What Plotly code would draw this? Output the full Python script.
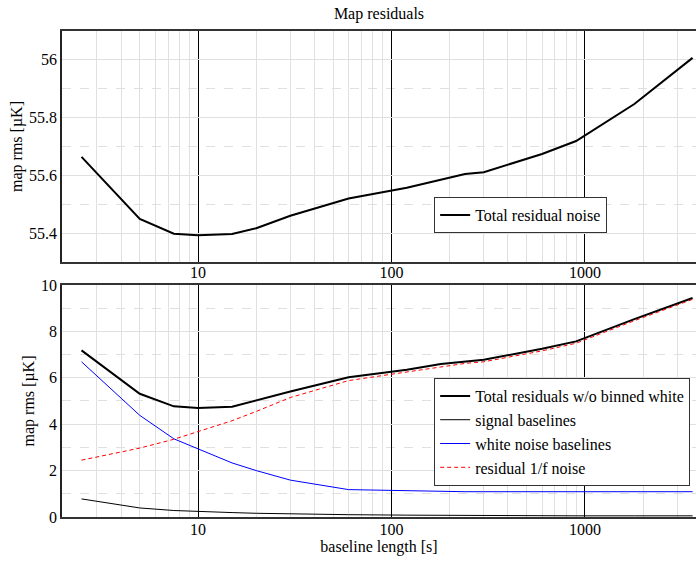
import plotly.graph_objects as go
from plotly.subplots import make_subplots

# ---- data ----
baseline_s = [2.5, 5, 7.5, 10, 15, 20, 30, 60, 120, 180, 240, 300, 600, 900, 1800, 3600]
total_residual_noise = [55.664, 55.449, 55.398, 55.393, 55.397, 55.417, 55.46, 55.52, 55.557,
                        55.584, 55.605, 55.611, 55.674, 55.719, 55.847, 56.007]
total_wo_binned_white = [7.18, 5.31, 4.77, 4.70, 4.75, 5.02, 5.41, 6.02, 6.35,
                         6.59, 6.71, 6.78, 7.25, 7.57, 8.53, 9.44]
signal_baselines = [0.78, 0.39, 0.28, 0.23, 0.19, 0.16, 0.13, 0.10, 0.08,
                    0.07, 0.07, 0.06, 0.05, 0.05, 0.05, 0.05]
white_noise_baselines = [6.69, 4.38, 3.37, 2.93, 2.33, 2.00, 1.59, 1.18, 1.12,
                         1.10, 1.09, 1.09, 1.09, 1.09, 1.09, 1.09]
residual_1f_noise = [2.45, 2.97, 3.35, 3.67, 4.15, 4.55, 5.15, 5.88, 6.25,
                     6.49, 6.62, 6.69, 7.16, 7.49, 8.46, 9.38]

x_major_ticks = [10, 100, 1000]
x_minor_ticks = [2, 3, 4, 5, 6, 7, 8, 9, 20, 30, 40, 50, 60, 70, 80, 90,
                 200, 300, 400, 500, 600, 700, 800, 900, 2000, 3000]
top_yticks = [55.4, 55.6, 55.8, 56]
top_yticklabels = ["55.4", "55.6", "55.8", "56"]
bottom_yticks = [0, 2, 4, 6, 8, 10]

FONT = "Liberation Serif, Times New Roman, serif"

fig = make_subplots(rows=2, cols=1, vertical_spacing=0.05)

fig.add_trace(go.Scatter(x=baseline_s, y=total_residual_noise, mode="lines",
                         name="Total residual noise", line=dict(color="black", width=2),
                         legend="legend", showlegend=True), row=1, col=1)

fig.add_trace(go.Scatter(x=baseline_s, y=total_wo_binned_white, mode="lines",
                         name="Total residuals w/o binned white", line=dict(color="black", width=2),
                         legend="legend2", showlegend=True), row=2, col=1)
fig.add_trace(go.Scatter(x=baseline_s, y=signal_baselines, mode="lines",
                         name="signal baselines", line=dict(color="black", width=1),
                         legend="legend2", showlegend=True), row=2, col=1)
fig.add_trace(go.Scatter(x=baseline_s, y=white_noise_baselines, mode="lines",
                         name="white noise baselines", line=dict(color="#0000ff", width=1),
                         legend="legend2", showlegend=True), row=2, col=1)
fig.add_trace(go.Scatter(x=baseline_s, y=residual_1f_noise, mode="lines",
                         name="residual 1/f noise", line=dict(color="#ff0000", width=1, dash="4px,3px"),
                         legend="legend2", showlegend=True), row=2, col=1)

xrange = [0.297, 3.574]
for r, stand in ((1, -5), (2, -3)):
    fig.update_xaxes(type="log", range=xrange, tickmode="array", tickvals=x_major_ticks,
                     ticktext=[str(v) for v in x_major_ticks],
                     showgrid=True, gridcolor="black", gridwidth=1,
                     minor=dict(tickmode="array", tickvals=x_minor_ticks, showgrid=True,
                                gridcolor="#e0e0e0", gridwidth=1, ticks=""),
                     showline=True, mirror=True, linecolor="#333333", linewidth=2,
                     ticks="", zeroline=False, automargin=False, ticklabelstandoff=stand,
                     tickfont=dict(family=FONT, size=16, color="black"),
                     row=r, col=1)

fig.update_yaxes(range=[55.3, 56.1], tickmode="array", tickvals=top_yticks,
                 ticktext=top_yticklabels,
                 minor=dict(dtick=0.1, showgrid=True, griddash="dash", gridcolor="#e0e0e0", ticks=""),
                 row=1, col=1)
fig.update_yaxes(range=[0, 10], tickmode="array", tickvals=bottom_yticks,
                 minor=dict(dtick=1, showgrid=True, griddash="dash", gridcolor="#e0e0e0", ticks=""),
                 row=2, col=1)
for r in (1, 2):
    fig.update_yaxes(showgrid=True, gridcolor="#e0e0e0", gridwidth=1,
                     showline=True, mirror=False, linecolor="#222222", linewidth=1.5,
                     ticks="", zeroline=False, automargin=False,
                     tickfont=dict(family=FONT, size=16, color="black"),
                     title=dict(text="map rms [µK]", font=dict(family=FONT, size=16, color="black"),
                                standoff=2),
                     row=r, col=1)

fig.update_xaxes(title=dict(text="baseline length [s]", font=dict(family=FONT, size=16, color="black"),
                            standoff=4), row=2, col=1)

fig.update_layout(
    width=696, height=563,
    showlegend=True,
    margin=dict(l=62, r=0, t=31, b=46, autoexpand=False),
    paper_bgcolor="white", plot_bgcolor="white",
    font=dict(family=FONT, size=16, color="black"),
    title=dict(text="Map residuals", x=0.5, xanchor="center", xref="paper",
               y=1 - 13 / 563, yanchor="middle", yref="container",
               font=dict(family=FONT, size=16, color="black")),
    legend=dict(x=0.587, y=0.658, xanchor="left", yanchor="top", visible=True,
                bordercolor="#333333", borderwidth=1, bgcolor="white",
                font=dict(family=FONT, size=16, color="black"),
                itemwidth=30, tracegroupgap=0),
    legend2=dict(x=0.587, y=0.286, xanchor="left", yanchor="top", visible=True,
                 bordercolor="#333333", borderwidth=1, bgcolor="white",
                 font=dict(family=FONT, size=16, color="black"),
                 itemwidth=30, tracegroupgap=0),
)
# panel domains
fig.update_layout(xaxis=dict(domain=[0, 1]), xaxis2=dict(domain=[0, 1]),
                  yaxis=dict(domain=[0.5247, 1.0]), yaxis2=dict(domain=[0.0, 0.4774]))

fig.write_html("out.html", config={"displayModeBar": False},
               post_script="document.body.style.margin='0';document.body.style.padding='0';")
